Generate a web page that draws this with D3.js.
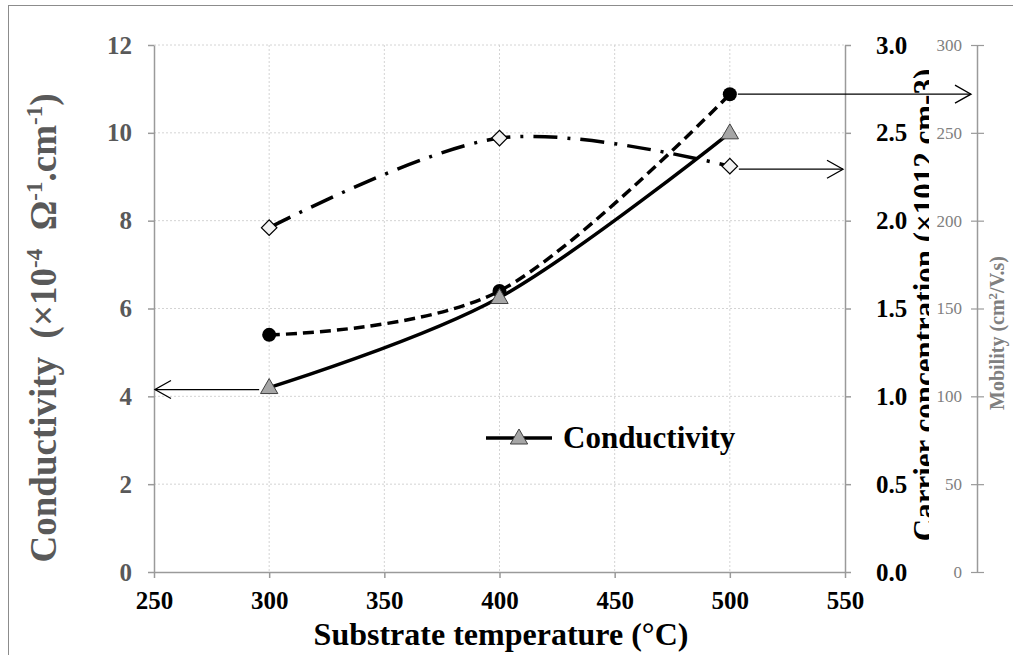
<!DOCTYPE html>
<html>
<head>
<meta charset="utf-8">
<script src="https://cdn.jsdelivr.net/npm/d3@7"></script>
<style>
  body { margin: 0; background: #fff; }
  text { font-family: "Liberation Serif", "Times New Roman", serif; white-space: pre; }
</style>
</head>
<body>
<div id="chart"></div>
<script>
// substrate temperatures (°C)
const temps = [300, 400, 500];
// conductivity (x10^-4 ohm^-1 cm^-1), left axis
const conductivity = [4.2, 6.25, 10.0];
// carrier concentration (x10^12 cm^-3), first right axis
const carrierConc = [1.35, 1.6, 2.72];
// mobility (cm2/V.s), second right axis
const mobility = [196, 247, 231];

const xTicks = [250, 300, 350, 400, 450, 500, 550];
const condTicks = [0, 2, 4, 6, 8, 10, 12];
const concTicks = [0, 0.5, 1.0, 1.5, 2.0, 2.5, 3.0];
const mobTicks = [0, 50, 100, 150, 200, 250, 300];

const width = 1013, height = 655;
const plot = { left: 154, right: 845, top: 45, bottom: 572 };

const svg = d3.select('#chart')
    .append('svg')
    .attr('width', width)
    .attr('height', height);

// outer frame
svg.append('rect')
    .attr('x', 8.5).attr('y', 5.5)
    .attr('width', 1010).attr('height', 660)
    .attr('fill', 'none')
    .attr('stroke', '#8c8c8c');

const x = d3.scaleLinear().domain([250, 550]).range([plot.left, plot.right]);
const yCond = d3.scaleLinear().domain([0, 12]).range([plot.bottom, plot.top]);
const yConc = d3.scaleLinear().domain([0, 3]).range([plot.bottom, plot.top]);
const yMob = d3.scaleLinear().domain([0, 300]).range([plot.bottom, plot.top]);

// grid
const grid = svg.append('g')
    .attr('stroke', '#d4d4d4')
    .attr('stroke-dasharray', '2,2');
grid.selectAll('line.h')
    .data(condTicks.filter((d) => d > 0))
    .enter()
    .append('line')
    .attr('x1', plot.left).attr('x2', plot.right)
    .attr('y1', (d) => yCond(d)).attr('y2', (d) => yCond(d));
grid.selectAll('line.v')
    .data(xTicks.slice(1, -1))
    .enter()
    .append('line')
    .attr('y1', plot.top).attr('y2', plot.bottom)
    .attr('x1', (d) => x(d)).attr('x2', (d) => x(d));

const styleAxis = (g, color) => {
    g.selectAll('.domain').attr('stroke', color).attr('stroke-width', 1.5);
    g.selectAll('.tick line').attr('stroke', color).attr('stroke-width', 1.5);
};

// bottom axis
const gx = svg.append('g')
    .attr('transform', `translate(0,${plot.bottom})`)
    .call(d3.axisBottom(x).tickValues(xTicks).tickSize(6).tickSizeOuter(0).tickPadding(13));
styleAxis(gx, '#9a9a9a');
gx.selectAll('text')
    .attr('font-size', 25).attr('font-weight', 'bold').attr('fill', '#000')
    .attr('font-family', 'Liberation Serif');

// left axis
const gl = svg.append('g')
    .attr('transform', `translate(${plot.left},0)`)
    .call(d3.axisLeft(yCond).tickValues(condTicks).tickSize(6).tickSizeOuter(0).tickPadding(16));
styleAxis(gl, '#9a9a9a');
gl.selectAll('text')
    .attr('font-size', 25).attr('font-weight', 'bold').attr('fill', '#595959')
    .attr('font-family', 'Liberation Serif');

// right axis: carrier concentration
const gr = svg.append('g')
    .attr('transform', `translate(${plot.right},0)`)
    .call(d3.axisRight(yConc).tickValues(concTicks).tickSize(6).tickSizeOuter(0).tickPadding(25)
        .tickFormat(d3.format('.1f')));
styleAxis(gr, '#9a9a9a');
gr.selectAll('text')
    .attr('font-size', 25).attr('font-weight', 'bold').attr('fill', '#000')
    .attr('font-family', 'Liberation Serif');

// carrier concentration title, partly hidden behind the mobility axis
svg.append('clipPath')
    .attr('id', 'concClip')
    .append('rect')
    .attr('x', 890).attr('y', 0).attr('width', 39).attr('height', height);
svg.append('g')
    .attr('clip-path', 'url(#concClip)')
    .append('text')
    .attr('transform', 'translate(935,305) rotate(-90)')
    .attr('text-anchor', 'middle')
    .attr('font-size', 31).attr('font-weight', 'bold').attr('fill', '#000')
    .text('Carrier concentration (×1012 cm-3)');

// second right axis: mobility
const xMobAxis = 977;
const gm = svg.append('g')
    .attr('transform', `translate(${xMobAxis},0)`)
    .call(d3.axisLeft(yMob).tickValues(mobTicks).tickSizeInner(-7).tickSizeOuter(0).tickPadding(15));
gm.selectAll('.domain').attr('stroke', '#9a9a9a').attr('stroke-width', 1.5);
gm.selectAll('.tick line').attr('x1', -6).attr('x2', 7).attr('stroke', '#9a9a9a').attr('stroke-width', 1.2);
gm.selectAll('text')
    .attr('font-size', 17).attr('fill', '#808080')
    .attr('font-family', 'Liberation Serif');

// axis titles
svg.append('text')
    .attr('x', 501).attr('y', 645)
    .attr('text-anchor', 'middle')
    .attr('font-size', 32).attr('font-weight', 'bold').attr('fill', '#000')
    .text('Substrate temperature (°C)');

const condTitle = svg.append('text')
    .attr('transform', 'translate(56,328) rotate(-90)')
    .attr('text-anchor', 'middle')
    .attr('font-size', 37).attr('font-weight', 'bold').attr('fill', '#595959');
condTitle.append('tspan').text('Conductivity  (×10');
condTitle.append('tspan').attr('font-size', 23).attr('dy', -14).text('-4');
condTitle.append('tspan').attr('dy', 14).text('  Ω');
condTitle.append('tspan').attr('font-size', 23).attr('dy', -14).text('-1');
condTitle.append('tspan').attr('dy', 14).text('.cm');
condTitle.append('tspan').attr('font-size', 23).attr('dy', -14).text('-1');
condTitle.append('tspan').attr('dy', 14).text(')');

const mobTitle = svg.append('text')
    .attr('transform', 'translate(1004,333) rotate(-90)')
    .attr('text-anchor', 'middle')
    .attr('font-size', 20).attr('font-weight', 'bold').attr('fill', '#808080');
mobTitle.append('tspan').text('Mobility (cm');
mobTitle.append('tspan').attr('font-size', 13).attr('dy', -7).text('2');
mobTitle.append('tspan').attr('dy', 7).text('/V.s)');

// series lines (smoothed like the original)
const curve = d3.curveCatmullRom.alpha(0);
const lineOf = (vals, y) => d3.line()
    .x((d, i) => x(temps[i]))
    .y((d) => y(d))
    .curve(curve)(vals);

svg.append('path')
    .attr('d', lineOf(mobility, yMob))
    .attr('fill', 'none').attr('stroke', '#000').attr('stroke-width', 3.5)
    .attr('stroke-dasharray', '24,10,3,10');
svg.append('path')
    .attr('d', lineOf(carrierConc, yConc))
    .attr('fill', 'none').attr('stroke', '#000').attr('stroke-width', 3.5)
    .attr('stroke-dasharray', '11,6');
svg.append('path')
    .attr('d', lineOf(conductivity, yCond))
    .attr('fill', 'none').attr('stroke', '#000').attr('stroke-width', 3.5);

// markers
const tri = d3.symbol().type(d3.symbolTriangle).size(130);
const sq = d3.symbol().type(d3.symbolSquare).size(120);

svg.selectAll('.mob')
    .data(mobility)
    .enter()
    .append('path')
    .attr('d', sq)
    .attr('transform', (d, i) => `translate(${x(temps[i])},${yMob(d)}) rotate(45)`)
    .attr('fill', '#f2f2f2').attr('stroke', '#000').attr('stroke-width', 1.2);
svg.selectAll('.conc')
    .data(carrierConc)
    .enter()
    .append('circle')
    .attr('cx', (d, i) => x(temps[i]))
    .attr('cy', (d) => yConc(d))
    .attr('r', 7)
    .attr('fill', '#000');
svg.selectAll('.cond')
    .data(conductivity)
    .enter()
    .append('path')
    .attr('d', tri)
    .attr('transform', (d, i) => `translate(${x(temps[i])},${yCond(d) + 1})`)
    .attr('fill', '#a6a6a6').attr('stroke', '#404040').attr('stroke-width', 1);

// arrows pointing each series to its axis
const arrow = (x1, x2, y) => {
    const dir = x2 > x1 ? 1 : -1;
    const g = svg.append('g').attr('stroke', '#000').attr('stroke-width', 1.3).attr('fill', 'none');
    g.append('line').attr('x1', x1).attr('x2', x2).attr('y1', y).attr('y2', y);
    g.append('path').attr('d', `M${x2 - dir * 16},${y - 9}L${x2},${y}L${x2 - dir * 16},${y + 9}`);
};
arrow(x(300) - 10, plot.left + 1, yCond(conductivity[0]) + 2);
arrow(x(500) + 8, 971, yConc(carrierConc[2]));
arrow(x(500) + 9, plot.right - 2, yMob(mobility[2]) + 3);

// legend
const lg = svg.append('g').attr('transform', 'translate(486,438)');
lg.append('line').attr('x1', 0).attr('x2', 66).attr('y1', 0).attr('y2', 0)
    .attr('stroke', '#000').attr('stroke-width', 3.5);
lg.append('path').attr('d', tri).attr('transform', 'translate(33,1)')
    .attr('fill', '#a6a6a6').attr('stroke', '#404040').attr('stroke-width', 1);
lg.append('text').attr('x', 77).attr('y', 10)
    .attr('font-size', 31).attr('font-weight', 'bold').attr('fill', '#000')
    .text('Conductivity');
</script>
</body>
</html>
